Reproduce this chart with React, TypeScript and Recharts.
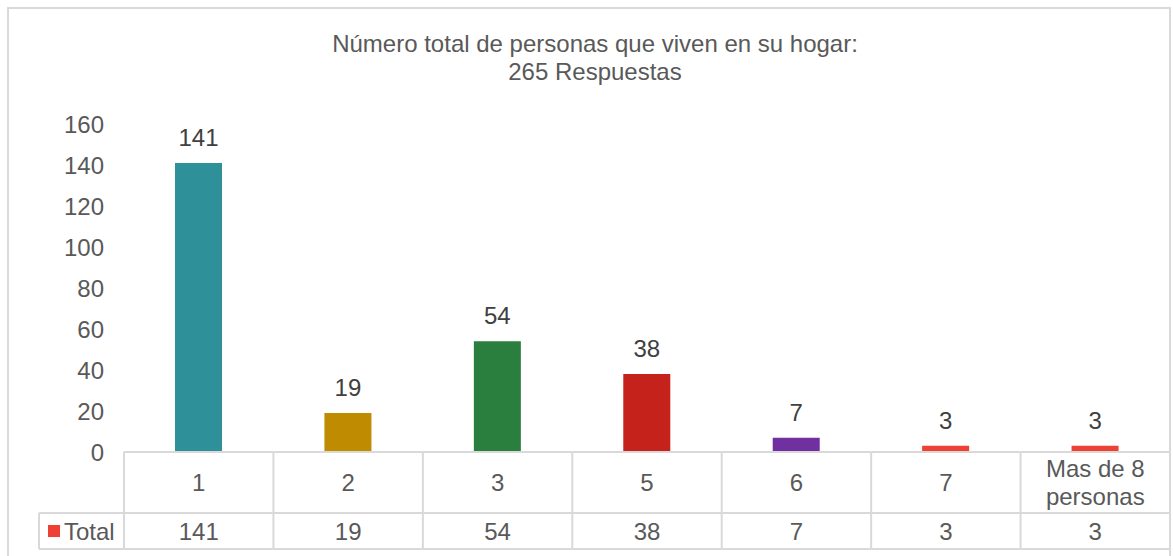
import React from "react";
import { BarChart, Bar, XAxis, YAxis, Cell, LabelList } from "recharts";

const categories = ["1", "2", "3", "5", "6", "7", "Mas de 8 personas"];
const totals = [141, 19, 54, 38, 7, 3, 3];
const barColors = ["#2E9099", "#BF8B00", "#2A7F3F", "#C4221A", "#7030A0", "#EE4035", "#EE4035"];
const yTicks = [0, 20, 40, 60, 80, 100, 120, 140, 160];
const seriesName = "Total";
const titleLines = ["Número total de personas que viven en su hogar:", "265 Respuestas"];

const W = 1173;
const H = 556;
const PLOT_LEFT = 124;
const PLOT_RIGHT = 1170;
const CELL_W = (PLOT_RIGHT - PLOT_LEFT) / categories.length;
const ROW1 = 61;
const ROW2 = 36;
const LEGEND_LEFT = 39;
const GRID = "#D9D9D9";
const TEXT = "#595959";
const FONT = '"Liberation Sans", Arial, sans-serif';
const FS = 24;

const data = categories.map((c, i) => ({ category: c, total: totals[i] }));

// greedy word wrap for the table header cells
function wrap(label: string, max = 10) {
  const words = label.split(" ");
  const lines: string[] = [];
  let cur = "";
  for (const w of words) {
    const next = cur ? cur + " " + w : w;
    if (next.length > max && cur) {
      lines.push(cur);
      cur = w;
    } else {
      cur = next;
    }
  }
  if (cur) lines.push(cur);
  return lines;
}

function TableTick(props: any) {
  const { x, y, payload, index } = props;
  const left = x - CELL_W / 2;
  const right = x + CELL_W / 2;
  const lines = wrap(String(payload.value));
  const lh = 28;
  const mid1 = y + ROW1 / 2;
  const mid2 = y + ROW1 + ROW2 / 2;
  const first = mid1 - ((lines.length - 1) * lh) / 2;
  const last = index === categories.length - 1;
  return (
    <g fontFamily={FONT} fontSize={FS} fill={TEXT}>
      <line x1={left} y1={y} x2={right} y2={y} stroke={GRID} strokeWidth={2} />
      <line x1={left} y1={y + ROW1} x2={right} y2={y + ROW1} stroke={GRID} strokeWidth={2} />
      <line x1={left} y1={y + ROW1 + ROW2} x2={right} y2={y + ROW1 + ROW2} stroke={GRID} strokeWidth={2} />
      <line x1={left} y1={y} x2={left} y2={y + ROW1 + ROW2} stroke={GRID} strokeWidth={2} />
      {last && <line x1={right} y1={y} x2={right} y2={y + ROW1 + ROW2} stroke={GRID} strokeWidth={2} />}
      {lines.map((t, i) => (
        <text key={i} x={x} y={first + i * lh} dy="0.36em" textAnchor="middle">
          {t}
        </text>
      ))}
      <text x={x} y={mid2} dy="0.36em" textAnchor="middle">
        {totals[index]}
      </text>
      {index === 0 && (
        <g>
          <line x1={LEGEND_LEFT} y1={y + ROW1} x2={left} y2={y + ROW1} stroke={GRID} strokeWidth={2} />
          <line x1={LEGEND_LEFT} y1={y + ROW1 + ROW2} x2={left} y2={y + ROW1 + ROW2} stroke={GRID} strokeWidth={2} />
          <line x1={LEGEND_LEFT} y1={y + ROW1} x2={LEGEND_LEFT} y2={y + ROW1 + ROW2} stroke={GRID} strokeWidth={2} />
          <rect x={48} y={mid2 - 6} width={12} height={12} fill={barColors[6]} />
          <text x={64} y={mid2} dy="0.36em" textAnchor="start">
            {seriesName}
          </text>
        </g>
      )}
    </g>
  );
}

export default function App() {
  return (
    <div style={{ position: "absolute", left: 0, top: 0, width: W, height: H, overflow: "hidden", background: "#fff" }}>
      <div
        style={{
          position: "absolute",
          left: 7,
          top: 7,
          width: 1164,
          height: 560,
          border: `2px solid ${GRID}`,
          boxSizing: "border-box",
        }}
      />
      <div
        style={{
          position: "absolute",
          left: 195,
          top: 30,
          width: 800,
          textAlign: "center",
          fontFamily: FONT,
          fontSize: FS,
          lineHeight: "28px",
          color: TEXT,
        }}
      >
        {titleLines.map((t) => (
          <div key={t}>{t}</div>
        ))}
      </div>
      <div style={{ position: "absolute", left: 0, top: 0 }}>
        <BarChart width={W} height={H} data={data} margin={{ top: 124, right: W - PLOT_RIGHT, left: 0, bottom: 0 }}>
          <XAxis
            dataKey="category"
            height={H - 452}
            axisLine={false}
            tickLine={false}
            tickSize={0}
            tickMargin={0}
            interval={0}
            tick={(p: any) => <TableTick {...p} />}
          />
          <YAxis
            width={PLOT_LEFT}
            domain={[0, 160]}
            ticks={yTicks}
            axisLine={false}
            tickLine={false}
            tickSize={0}
            tickMargin={20}
            tick={{ fill: TEXT, fontSize: FS, fontFamily: FONT }}
          />
          <Bar dataKey="total" name={seriesName} barSize={47} isAnimationActive={false}>
            {data.map((d, i) => (
              <Cell key={d.category} fill={barColors[i]} />
            ))}
            <LabelList dataKey="total" position="top" offset={17} fill="#404040" fontSize={FS} fontFamily={FONT} />
          </Bar>
        </BarChart>
      </div>
    </div>
  );
}
